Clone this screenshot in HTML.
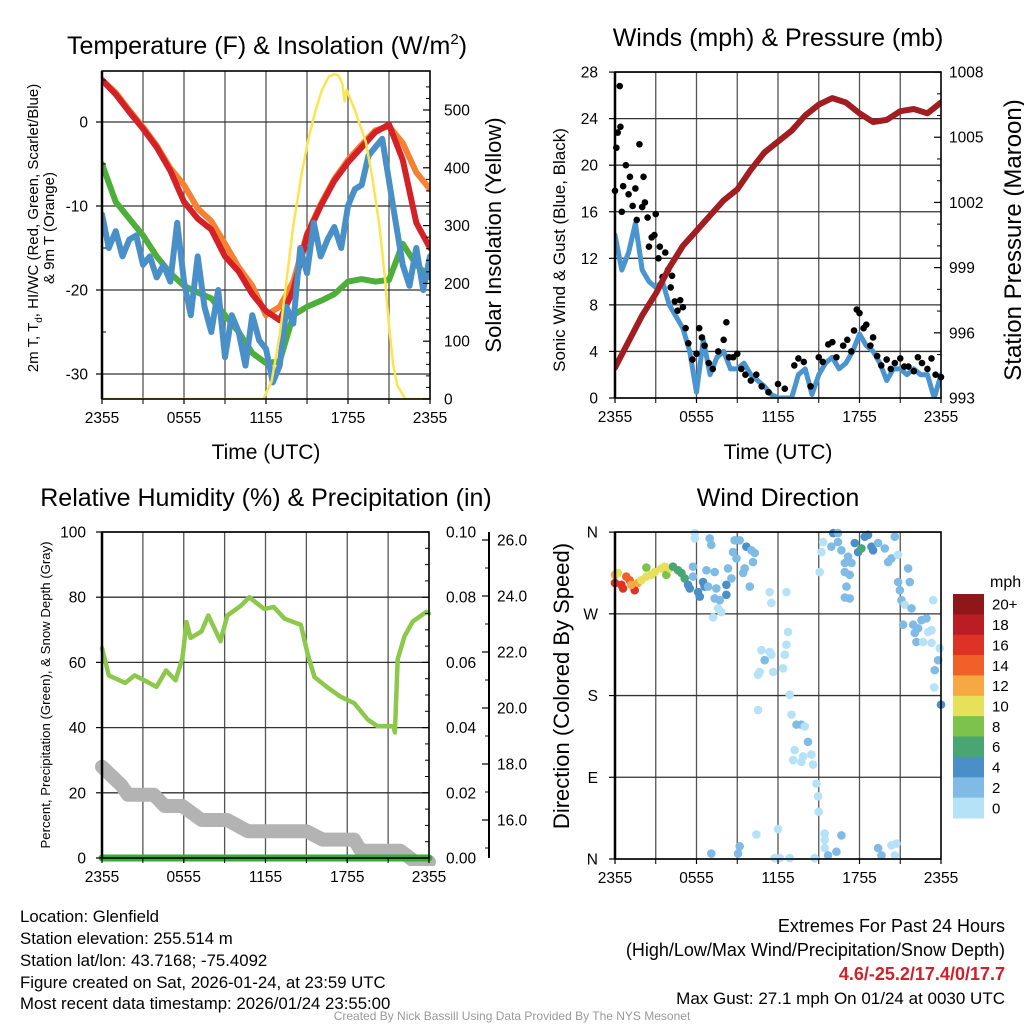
<!DOCTYPE html>
<html><head><meta charset="utf-8">
<style>
html,body{margin:0;padding:0;background:#fff;}
svg{display:block;font-family:"Liberation Sans",Arial,sans-serif;}
</style></head>
<body>
<svg id="chart" width="1024" height="1024" viewBox="0 0 1024 1024">
<defs>
<clipPath id="c1"><rect x="102" y="71" width="328" height="328"/></clipPath>
<clipPath id="c2"><rect x="615" y="72" width="326" height="326"/></clipPath>
<clipPath id="c3"><rect x="95" y="532" width="345" height="334"/></clipPath>
<clipPath id="c4"><rect x="605" y="522" width="346" height="346"/></clipPath>
</defs>
<g id="grids"></g>
<g id="data"></g>
<g id="axes"></g>
<g id="texts">
<text x="267" y="54" font-size="25" text-anchor="middle">Temperature (F) &amp; Insolation (W/m<tspan font-size="15" dy="-10">2</tspan><tspan dy="10">)</tspan></text>
<text x="778" y="46" font-size="25" text-anchor="middle">Winds (mph) &amp; Pressure (mb)</text>
<text x="266" y="506" font-size="25" text-anchor="middle">Relative Humidity (%) &amp; Precipitation (in)</text>
<text x="778" y="506" font-size="25" text-anchor="middle">Wind Direction</text>
<text x="266" y="459" font-size="21" text-anchor="middle">Time (UTC)</text>
<text x="778" y="459" font-size="21" text-anchor="middle">Time (UTC)</text>
<text transform="translate(38,228) rotate(-90)" font-size="15" text-anchor="middle">2m T, T<tspan font-size="10" dy="4">d</tspan><tspan dy="-4">, HI/WC (Red, Green, Scarlet/Blue)</tspan></text>
<text transform="translate(54,228) rotate(-90)" font-size="15" text-anchor="middle">&amp; 9m T (Orange)</text>
<text transform="translate(501,235) rotate(-90)" font-size="22" text-anchor="middle">Solar Insolation (Yellow)</text>
<text transform="translate(565,250) rotate(-90)" font-size="17" text-anchor="middle">Sonic Wind &amp; Gust (Blue, Black)</text>
<text transform="translate(1021,240) rotate(-90)" font-size="24" text-anchor="middle">Station Pressure (Maroon)</text>
<text transform="translate(50,695) rotate(-90)" font-size="13.2" text-anchor="middle">Percent, Precipitation (Green), &amp; Snow Depth (Gray)</text>
<text transform="translate(569,686) rotate(-90)" font-size="22" text-anchor="middle">Direction (Colored By Speed)</text>
<text x="990" y="587" font-size="16">mph</text>
<g font-size="16.8">
<text x="20" y="922">Location: Glenfield</text>
<text x="20" y="944">Station elevation: 255.514 m</text>
<text x="20" y="966">Station lat/lon: 43.7168; -75.4092</text>
<text x="20" y="988">Figure created on Sat, 2026-01-24, at 23:59 UTC</text>
<text x="20" y="1009">Most recent data timestamp: 2026/01/24 23:55:00</text>
</g>
<g font-size="18" text-anchor="end">
<text x="1005" y="932">Extremes For Past 24 Hours</text>
<text x="1005" y="956">(High/Low/Max Wind/Precipitation/Snow Depth)</text>
<text x="1005" y="980" fill="#d0202a" font-weight="bold">4.6/-25.2/17.4/0/17.7</text>
<text x="1005" y="1004" font-size="17">Max Gust: 27.1 mph On 01/24 at 0030 UTC</text>
</g>
<text x="512" y="1020" font-size="12" fill="#999" text-anchor="middle">Created By Nick Bassill Using Data Provided By The NYS Mesonet</text>
</g>
</svg>
<script>
// ---------- DATA ----------
const hours = [0,1,2,3,4,5,6,7,8,9,10,11,12,13,14,15,16,17,18,19,20,21,22,23,24];
const tempRed = [5,3.3,1.2,-0.8,-3,-5.8,-9.5,-11.5,-12.8,-16,-17.8,-20.5,-22.5,-23.6,-20,-13.5,-10,-7,-4.8,-3,-1.2,-0.3,-4.5,-12,-15];
const tempOrange = [5,3.5,1.4,-0.6,-2.8,-5.5,-7.5,-10.3,-11.8,-14.5,-17.3,-19.5,-23,-22,-19,-13.3,-9.8,-6.8,-4.5,-2.7,-1,-0.5,-2.5,-6,-8];
const dewGreen = [-5,-9.5,-11.5,-13.5,-16,-18,-19.5,-20.3,-21,-23,-25,-27.5,-28.7,-28.5,-23,-22,-21.3,-20.5,-19,-18.7,-19,-18.8,-14.5,-17,-18.5];
const halfHours = [0,0.5,1,1.5,2,2.5,3,3.5,4,4.5,5,5.5,6,6.5,7,7.5,8,8.5,9,9.5,10,10.5,11,11.5,12,12.5,13,13.5,14,14.5,15,15.5,16,16.5,17,17.5,18,18.5,19,19.5,20,20.5,21,21.5,22,22.5,23,23.5,24];
const windChillBlue = [-11,-15,-13,-16,-14,-13.5,-17,-16,-18.5,-17,-19,-12,-19,-23,-16,-22,-25,-20,-28,-23,-25,-29,-23,-26,-27,-31,-29,-22,-24,-15,-18,-12,-16,-14,-12.5,-15,-10,-8,-7.5,-4,-3,-2,-7,-12,-17,-19.5,-15,-20,-16];
const solarTimes = [0,11.8,12.4,13,13.4,14,14.6,15.1,15.6,16.1,16.6,17,17.3,17.6,17.75,17.9,18.5,19.3,19.8,20.3,20.7,21,21.3,21.6,22.2,24];
const solarVals = [0,0,30,110,185,300,388,450,497,535,558,562,560,545,515,535,500,445,380,300,210,128,60,24,0,0];

const windSonic = [14,11,12.5,15,11,10,9.5,10,8,7,6,4,0.5,5,2,3.5,4,2.5,2.5,3,2,1.5,1,0.3,0,0,0,2,2.5,0.3,2,3,3.5,2.5,3,4,5.5,4.5,4,3,1.5,2.5,2.5,2,2.5,2,2,0,2];
const gustTimes = [0,0.1,0.2,0.35,0.4,0.5,0.6,0.8,1,1.1,1.3,1.5,1.6,1.8,2,2.1,2.2,2.4,2.5,2.7,2.9,3,3.2,3.3,3.5,3.7,3.9,4.1,4.2,4.4,4.6,4.8,5,5.2,5.4,5.7,6,6.2,6.4,6.6,6.9,7.2,7.6,8,8.2,8.4,8.7,9,9.3,9.6,10,10.4,10.8,11.3,12,12.5,13.2,13.5,13.9,14.4,15,15.3,15.7,16,16.3,16.8,17.1,17.4,17.6,17.8,18,18.3,18.5,18.8,19,19.3,19.6,20,20.3,20.6,21,21.3,21.6,22,22.3,22.6,23,23.3,23.6,24];
const gustVals = [17.8,21.5,22.8,26.8,23.3,16,18.2,20,17.5,19,16.5,18,15.3,21.8,16.4,19,16.8,15.5,13,13.8,14,15.8,12,13,10.4,12.5,11,9.5,10.5,8.3,7.5,8.4,7.8,6,4.7,3.3,3.8,6,5.2,4.5,3,2.5,4,5,6.5,3.5,3.5,3.8,2.5,2,1.5,2,1,0.5,1.2,0.8,2.8,3.4,3.1,1,3.5,3.1,4.6,4.8,3.5,4.5,5,4,5.8,7.6,7.3,6,6.3,4.5,5.2,3.6,2.8,3.3,2.5,3,3.4,2.7,2.7,2.3,3.5,3,2.5,3.4,2,1.8];
const pressure = [994.4,995.6,996.8,997.8,999,1000,1000.7,1001.4,1002.1,1002.6,1003.5,1004.3,1004.8,1005.3,1006,1006.5,1006.8,1006.6,1006.1,1005.7,1005.8,1006.2,1006.3,1006.1,1006.6];

const rhTimes = [0,0.5,1.7,2.4,3.1,4,4.7,5.4,5.9,6.2,6.5,7.3,7.8,8.7,9.2,10.2,10.8,11.9,12.6,13.4,14.6,15.1,15.6,16.5,17.5,18.5,19.5,20.2,21.4,21.5,21.7,22.2,22.8,23.8,24];
const rhVals = [64.4,56,53.7,56,54.5,52.5,57.5,54.5,61.3,72.4,67.5,69.5,74.4,66.5,74.4,77.4,80,76.4,77,73.4,71.5,62.5,55.5,52.5,49.5,47.5,42.5,40.5,40.4,38.5,61,68,72.5,75.5,75];
const snowTimes = [0,1.4,1.9,3.8,4.6,5.9,7.3,9.2,10.7,15,16.2,18.5,19,21.9,23,24];
const snowDepth = [17.9,17.25,16.9,16.9,16.5,16.5,16.0,16.0,15.6,15.6,15.3,15.3,14.9,14.9,14.5,14.5];
const precipTimes = [0,24];
const precipVals = [0,0];

const dirTimes = [0,0.22,0,0.47,0.59,0.83,1.08,1.45,1.2,1.69,1.94,2.31,2.31,2.68,2.92,3.41,3.78,3.66,4.03,4.27,4.64,4.89,5.13,5.38,5.5,5.74,5.74,6.11,6.24,6.48,6.6,6.73,6.85,7.34,7.34,7.46,7.71,7.59,7.83,7.22,8.2,8.2,8.32,8.57,8.69,8.81,8.94,9.18,9.43,9.55,9.67,9.92,10.04,10.16,10.29,5.87,5.87,6.97,7.09,11.39,11.51,12.62,12.74,12.62,12.5,12.37,10.78,11.02,11.39,11.51,10.65,10.53,11.64,12.86,10.53,12.99,13.36,13.72,13.97,14.21,14.46,13.23,13.11,13.85,13.72,14.58,14.83,14.95,15.0,12.0,10.41,9.18,9.06,7.09,11.76,12.13,12.86,14.7,15.44,15.44,15.44,15.69,16.3,16.67,15.07,15.2,15.32,15.93,16.06,16.42,16.42,16.67,16.92,16.92,17.16,17.28,17.41,17.04,16.92,17.28,17.65,17.9,18.14,18.39,18.63,18.88,19.0,19.37,19.86,20.11,20.35,20.6,20.84,21.58,21.7,20.84,20.97,21.09,21.34,21.83,23.42,21.21,21.95,22.07,22.32,22.56,22.93,23.05,23.3,22.19,22.68,23.3,23.91,23.79,23.54,23.5,24.0,19.37,19.62,20.35,20.72,20.6];
const dirVals = [313,315,304,302,298,311,307,296,302,304,307,321,311,313,316,320,313,322,320,322,318,315,309,302,298,322,311,294,289,305,300,318,300,316,287,298,285,276,272,266,291,302,320,309,338,351,331,351,315,320,344,300,340,327,337,359,353,353,346,294,282,294,250,236,225,210,230,219,228,225,206,203,206,181,164,159,148,148,146,129,115,120,109,113,107,104,83,69,52,33,27,14,6,6,1,1,1,1,28,21,12,4,8,26,316,338,349,344,359,359,349,340,326,316,333,313,326,300,288,287,348,338,342,355,357,344,340,348,342,327,331,355,335,320,305,305,296,285,280,276,285,258,258,249,254,263,265,250,252,239,239,238,232,219,208,189,170,12,4,15,17,4];
const dirSpeed = [12,10,16,16,16,15,14,17,12,12,10,8,10,10,10,10,8,10,10,7,7,6,6,5,4,3,2,4,4,4,4,3,2,2,2,2,2,1,1,0,4,4,2,2,3,3,3,2,2,2,4,2,3,2,2,0,0,3,2,0,0,0,0,0,0,0,0,2,0,0,0,0,0,0,0,0,2,2,0,2,0,0,0,0,0,0,0,0,0,0,0,2,2,2,0,0,0,0,0,0,0,3,2,2,0,0,0,2,4,3,2,2,2,2,2,2,2,2,2,2,4,4,7,4,4,4,4,2,2,2,2,2,0,2,2,2,2,2,0,2,0,3,2,2,2,2,2,0,0,2,0,0,0,2,2,0,4,2,2,0,0,0];

const xTickHours = [0,6,12,18,24];
const xTickLabels = ["2355","0555","1155","1755","2355"];
const speedColors = ["#b5e2f6","#7fbbe5","#4a8fc7","#49a572","#7cc24b","#e6e05a","#f7a843","#f06129","#dc3326","#bb1d24","#8f1619"];
const speedLabels = ["0","2","4","6","8","10","12","14","16","18","20+"];

// ---------- SCALES ----------
const p1x = t => 102 + t*328/24, p1y = v => 122 - v*8.4, p1r = w => 399 - w*0.578;
const p2x = t => 615 + t*326/24, p2y = v => 398 - v*11.64, p2p = p => 398 - (p-993)*21.73;
const p3x = t => 102 + t*327/24, p3y = v => 858 - v*3.26, p3p = v => 858 - v*3260, p3s = d => 820 - (d-16)*28;
const p4x = t => 615 + t*326/24, p4y = d => 859 - d*0.908;

const NS = "http://www.w3.org/2000/svg";
function mk(tag, attrs, parent){
  const e = document.createElementNS(NS, tag);
  for (const k in attrs) e.setAttribute(k, attrs[k]);
  parent.appendChild(e);
  return e;
}
const G = document.getElementById("grids"), D = document.getElementById("data"), A = document.getElementById("axes");
function pathFrom(xs, ys, fx, fy){
  let d = "";
  for (let i=0;i<xs.length;i++) d += (i?"L":"M") + fx(xs[i]).toFixed(1) + "," + fy(ys[i]).toFixed(1);
  return d;
}

// ---------- FRAMES & GRIDS ----------
const panels = [
  {id:"temp", x0:102,x1:430,y0:71,y1:399,fx:p1x},
  {id:"wind", x0:615,x1:941,y0:72,y1:398,fx:p2x},
  {id:"humidity", x0:102,x1:429,y0:532,y1:858,fx:p3x},
  {id:"direction", x0:615,x1:941,y0:532,y1:859,fx:p4x}
];
const gridHours = [3,6,9,12,15,18,21];
panels.forEach(p=>{
  gridHours.forEach(h=>{
    const g = mk("line",{x1:p.fx(h),x2:p.fx(h),y1:p.y0,y2:p.y1,stroke:"#555","stroke-width":1.3},G);
    
    
  });
  xTickHours.forEach((h,i)=>{
    mk("line",{x1:p.fx(h),x2:p.fx(h),y1:p.y1,y2:p.y1+5,stroke:"#000","stroke-width":1.2},A);
    const t = mk("text",{x:p.fx(h),y:p.y1+24,"font-size":15.5,"text-anchor":"middle"},A);
    t.textContent = xTickLabels[i];
    
    
  });
  gridHours.forEach(h=>{ mk("line",{x1:p.fx(h),x2:p.fx(h),y1:p.y1,y2:p.y1+5,stroke:"#000","stroke-width":1},A); });
});
function hgrid(p, vals, fy, labels, lx, anchor, name){
  vals.forEach((v,i)=>{
    const y = fy(v);
    const l = mk("line",{x1:p.x0,x2:p.x1,y1:y,y2:y,stroke:"#333","stroke-width":1.3},G);
    
    
    mk("line",{x1:p.x0-6,x2:p.x0,y1:y,y2:y,stroke:"#000","stroke-width":1.2},A);
    const t = mk("text",{x:lx,y:y+5.5,"font-size":15.5,"text-anchor":anchor},A);
    t.textContent = labels[i];
    
    
  });
}
function rlabels(vals, fy, labels, lx, xAxis, name, minor, fyMinor){
  vals.forEach((v,i)=>{
    const y = fy(v);
    mk("line",{x1:xAxis-7,x2:xAxis,y1:y,y2:y,stroke:"#000","stroke-width":1.2},A);
    const t = mk("text",{x:lx,y:y+5.5,"font-size":15.5},A);
    t.textContent = labels[i];
    
    
  });
  (minor||[]).forEach(v=>{ const y=fyMinor(v); mk("line",{x1:xAxis-4,x2:xAxis,y1:y,y2:y,stroke:"#000","stroke-width":1},A); });
}
// panel 1
hgrid(panels[0],[0,-10,-20,-30],p1y,["0","-10","-20","-30"],88,"end","temp-y");
[5,-5,-15,-25].forEach(v=>{ mk("line",{x1:102,x2:106,y1:p1y(v),y2:p1y(v),stroke:"#000","stroke-width":1},A); });
rlabels([0,100,200,300,400,500],p1r,["0","100","200","300","400","500"],444,430,"insolation-y",
  [20,40,60,80,120,140,160,180,220,240,260,280,320,340,360,380,420,440,460,480,520,540],p1r);
// panel 2
hgrid(panels[1],[0,4,8,12,16,20,24,28],p2y,["0","4","8","12","16","20","24","28"],598,"end","wind-y");
rlabels([993,996,999,1002,1005,1008],p2p,["993","996","999","1002","1005","1008"],949,941,"pressure-y",
  [994,995,997,998,1000,1001,1003,1004,1006,1007],p2p);
// panel 3
hgrid(panels[2],[0,20,40,60,80,100],p3y,["0","20","40","60","80","100"],86,"end","humidity-y");
rlabels([0,0.02,0.04,0.06,0.08,0.1],p3p,["0.00","0.02","0.04","0.06","0.08","0.10"],446,429,"precip-y",
  [0.005,0.01,0.015,0.025,0.03,0.035,0.045,0.05,0.055,0.065,0.07,0.075,0.085,0.09,0.095],p3p);
mk("line",{x1:489,x2:489,y1:532,y2:858,stroke:"#000","stroke-width":2},A);
rlabels([16,18,20,22,24,26],p3s,["16.0","18.0","20.0","22.0","24.0","26.0"],497,489,"snow-y",
  [15,17,19,21,23,25],p3s);
// panel 4
hgrid(panels[3],[360,270,180,90,0],p4y,["N","W","S","E","N"],598,"end","direction-y");
panels.forEach(p=>{
  const r = mk("rect",{x:p.x0,y:p.y0,width:p.x1-p.x0,height:p.y1-p.y0,fill:"none",stroke:"#000","stroke-width":1.6},A);
  
  
  mk("line",{x1:p.x0,x2:p.x0,y1:p.y0,y2:p.y1,stroke:"#000","stroke-width":2.5},A);
});

// ---------- SERIES ----------
function series(parentClip, xs, ys, fx, fy, color, w, name){
  const pth = mk("path",{d:pathFrom(xs,ys,fx,fy),fill:"none",stroke:color,"stroke-width":w,"stroke-linejoin":"round","stroke-linecap":"round","clip-path":parentClip},D);
  
  
}
series("url(#c1)",hours,tempOrange,p1x,p1y,"#f58232",6,"orange-9m-temperature-line");
series("url(#c1)",hours,tempRed,p1x,p1y,"#d42027",6,"red-2m-temperature-line");
series("url(#c1)",hours,dewGreen,p1x,p1y,"#4daf3a",6,"green-dewpoint-line");
series("url(#c1)",halfHours,windChillBlue,p1x,p1y,"#4a90c8",6,"blue-windchill-line");
series("url(#c1)",solarTimes,solarVals,p1x,p1r,"#fde44f",2.5,"yellow-insolation-line");

series("url(#c2)",halfHours,windSonic,p2x,p2y,"#4a94cf",5,"blue-sonic-wind-line");
gustTimes.forEach((t,i)=>{
  const c = mk("circle",{cx:p2x(t),cy:p2y(gustVals[i]),r:3.3,fill:"#000"},D);
  
  
});
series("url(#c2)",hours,pressure,p2x,p2p,"#a11d21",6,"maroon-pressure-line");

series("url(#c3)",snowTimes,snowDepth,p3x,p3s,"#b3b3b3",14,"gray-snow-depth-line");
series("url(#c3)",rhTimes,rhVals,p3x,p3y,"#8cc84b",4.5,"green-humidity-line");
series("url(#c3)",precipTimes,precipVals,p3x,p3p,"#3aaa3a",7,"green-precipitation-line");

dirTimes.forEach((t,i)=>{
  const b = Math.min(10, Math.floor(dirSpeed[i]/2));
  const c = mk("circle",{cx:p4x(t),cy:p4y(dirVals[i]),r:4.3,fill:speedColors[b],"clip-path":"url(#c4)"},D);
  
  
});

// colorbar
const cbTop = 594, cbH = 224/11;
for (let i=0;i<11;i++){
  const idx = 10 - i;
  const r = mk("rect",{x:953,y:cbTop+i*cbH,width:31,height:cbH+0.5,fill:speedColors[idx]},A);
  
  
  const t = mk("text",{x:992,y:cbTop+i*cbH+cbH/2+5.5,"font-size":15},A);
  t.textContent = speedLabels[idx];
  
  
}
</script>
</body></html>
